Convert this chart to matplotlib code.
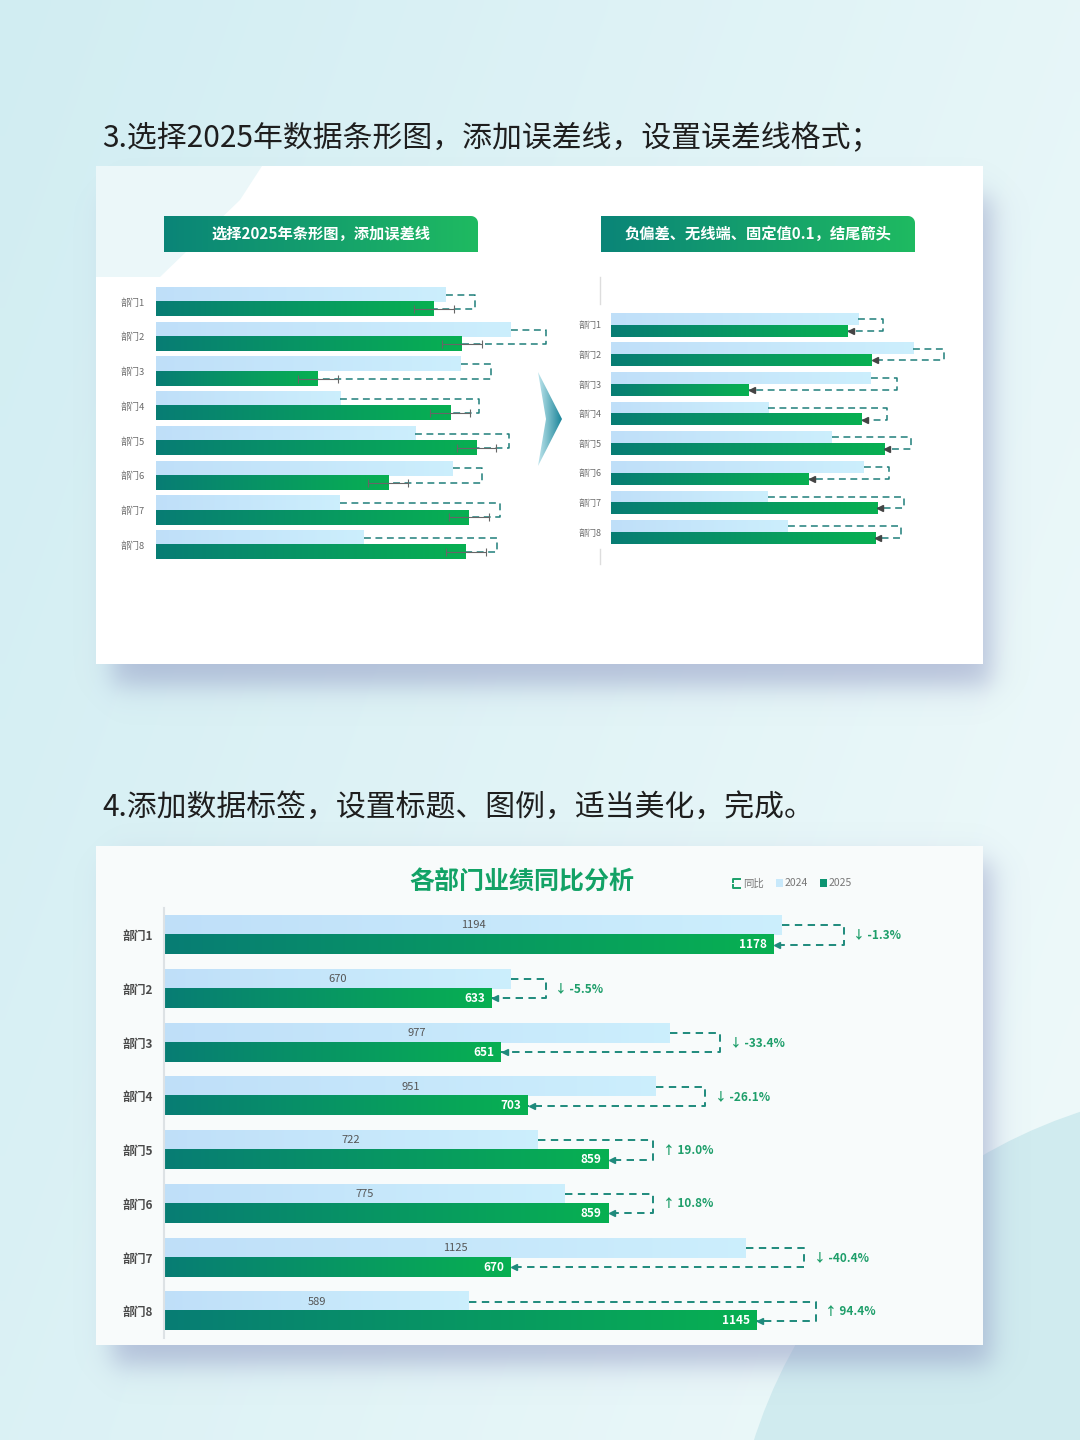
import numpy as np
import matplotlib
matplotlib.use('Agg')
import matplotlib.pyplot as plt
from matplotlib.patches import Rectangle, Polygon, Circle, PathPatch
from matplotlib.path import Path
import matplotlib.transforms as mtransforms

plt.rcParams['font.family'] = ['Noto Sans CJK SC', 'DejaVu Sans']

# ---- data ----
depts = ['部门1', '部门2', '部门3', '部门4', '部门5', '部门6', '部门7', '部门8']
# demo data used in the two step charts
demo_2024 = [986, 1207, 1037, 627, 881, 1009, 625, 706]
demo_2025 = [944, 1040, 550, 1000, 1090, 790, 1063, 1054]
demo_err = 68
# final chart
sales_2024 = [1194, 670, 977, 951, 722, 775, 1125, 589]
sales_2025 = [1178, 633, 651, 703, 859, 859, 670, 1145]

heading3 = '3.选择2025年数据条形图，添加误差线，设置误差线格式；'
heading4 = '4.添加数据标签，设置标题、图例，适当美化，完成。'
banner1 = '选择2025年条形图，添加误差线'
banner2 = '负偏差、无线端、固定值0.1，结尾箭头'
chart_title = '各部门业绩同比分析'
legend_labels = ['同比', '2024', '2025']

W, H = 1080, 1440
fig = plt.figure(figsize=(10.8, 14.4), dpi=100)
bg = fig.add_axes([0, 0, 1, 1])
bg.set_xlim(0, W)
bg.set_ylim(H, 0)
bg.axis('off')

c24a, c24b = np.array([0.75, 0.875, 0.976]), np.array([0.80, 0.935, 0.99])
c25a, c25b = np.array([0.03, 0.49, 0.455]), np.array([0.03, 0.69, 0.32])
teal = '#1f8a7c'

# background gradient
yy, xx = np.mgrid[0:1:144j, 0:1:108j]
t = np.clip(0.75 * xx + 0.35 * yy, 0, 1)[..., None]
cA = np.array([0.82, 0.93, 0.95])
cB = np.array([0.93, 0.975, 0.98])
bg.imshow(cA * (1 - t) + cB * t, extent=(0, W, H, 0), aspect='auto', zorder=0, interpolation='bilinear')
bg.add_patch(Circle((1237, 1594), 507, fc='#d0ebef', ec='none', zorder=1))


def soft_shadow(x0, y0, x1, y1, s, alpha, color):
    gx = np.linspace(0, W, W // 2)
    gy = np.linspace(0, H, H // 2)
    fx = 0.5 * (np.tanh((gx - x0) / s) - np.tanh((gx - x1) / s))
    fy = 0.5 * (np.tanh((gy - y0) / s) - np.tanh((gy - y1) / s))
    img = np.zeros((len(gy), len(gx), 4))
    img[..., :3] = color
    img[..., 3] = np.outer(fy, fx) * alpha
    bg.imshow(img, extent=(0, W, H, 0), aspect='auto', zorder=2, interpolation='bilinear')


soft_shadow(112, 196, 992, 686, 16, 0.55, (0.56, 0.59, 0.76))
soft_shadow(112, 862, 992, 1366, 16, 0.55, (0.56, 0.59, 0.76))

# cards
bg.add_patch(Rectangle((96, 166), 887, 498, fc='white', ec='none', zorder=3))
bg.add_patch(Polygon([(96, 166), (262, 166), (240, 200), (160, 277), (96, 277)],
                     fc='#ebf7f9', ec='none', zorder=3.2))
bg.add_patch(Rectangle((96, 846), 887, 499, fc='#f8fbfb', ec='none', zorder=3))

# headings
bg.text(102, 139, heading3, fontsize=21.5, color='#1e1e1e', va='center', zorder=5)
bg.text(102, 807, heading4, fontsize=21.5, color='#1e1e1e', va='center', zorder=5)


def grad_fill(x0, y0, x1, y1, ca, cb, clip, z):
    g = np.linspace(0, 1, 256)[None, :, None]
    im = bg.imshow(ca * (1 - g) + cb * g, extent=(x0, x1, y1, y0), aspect='auto',
                   zorder=z, interpolation='bilinear')
    im.set_clip_path(clip)


def banner_path(x0, y0, x1, y1, r):
    ang = np.linspace(-np.pi / 2, 0, 8)
    arc = [(x1 - r + r * np.cos(a), y0 + r + r * np.sin(a)) for a in ang]
    verts = [(x0, y1), (x0, y0)] + arc + [(x1, y1), (x0, y1)]
    return Path(verts)


for (bx0, bx1, txt) in [(164, 478, banner1), (601, 915, banner2)]:
    p = PathPatch(banner_path(bx0, 216, bx1, 252, 7), fc='none', ec='none', zorder=4)
    bg.add_patch(p)
    grad_fill(bx0, 216, bx1, 252, np.array([0.04, 0.52, 0.47]), np.array([0.12, 0.73, 0.38]), p, 4)
    bg.text((bx0 + bx1) / 2, 234, txt, color='white', fontsize=11, weight='bold',
            ha='center', va='center', zorder=5)

# chevron between step charts
chev = Polygon([(538, 372), (562, 419), (538, 466), (546, 419)], fc='none', ec='none', zorder=4)
bg.add_patch(chev)
grad_fill(538, 372, 562, 466, np.array([0.75, 0.9, 0.93]), np.array([0.1, 0.52, 0.6]), chev, 4)

# axis stubs of the right step chart
bg.plot([600, 600], [277, 304], color='#dddddd', lw=1, zorder=5)
bg.plot([600, 600], [549, 564], color='#dddddd', lw=1, zorder=5)

# final chart title and legend
bg.text(522, 882, chart_title, color='#12a266', fontsize=18, weight='bold',
        ha='center', va='center', zorder=5)
bg.plot([740, 733, 733], [879, 879, 882], color='#1aa06a', lw=1.4, zorder=5)
bg.plot([733, 733, 740], [885, 888, 888], color='#1aa06a', lw=1.4, zorder=5)
bg.text(743, 883.5, legend_labels[0], fontsize=7.5, color='#777777', va='center', zorder=5)
bg.add_patch(Rectangle((776, 879), 7, 8, fc='#c8e9fb', ec='none', zorder=5))
bg.text(785, 883.5, legend_labels[1], fontsize=7.5, color='#777777', va='center', zorder=5)
bg.add_patch(Rectangle((820, 879), 7, 8, fc='#0c9471', ec='none', zorder=5))
bg.text(829, 883.5, legend_labels[2], fontsize=7.5, color='#777777', va='center', zorder=5)

bg.set_xlim(0, W)
bg.set_ylim(H, 0)


def px_axes(x0, y0, x1, y1):
    ax = fig.add_axes([x0 / W, 1 - y1 / H, (x1 - x0) / W, (y1 - y0) / H])
    ax.patch.set_alpha(0)
    for s in ax.spines.values():
        s.set_visible(False)
    ax.set_xticks([])
    return ax


def grad_bars(ax, bars, ca, cb):
    g = np.linspace(0, 1, 128)[None, :, None]
    img = ca * (1 - g) + cb * g
    for b in bars:
        x, y, w, h = b.get_x(), b.get_y(), b.get_width(), b.get_height()
        ax.imshow(img, extent=(x, x + w, y + h, y), aspect='auto', zorder=2, interpolation='bilinear')
        b.set_facecolor('none')


def draw_bars(ax, v24, v25, h, xmax):
    y = np.arange(len(depts))
    b24 = ax.barh(y - h / 2, v24, height=h, lw=0)
    b25 = ax.barh(y + h / 2, v25, height=h, lw=0)
    grad_bars(ax, b24, c24a, c24b)
    grad_bars(ax, b25, c25a, c25b)
    ax.set_xlim(0, xmax)
    ax.set_ylim(len(depts) - 0.5, -0.5)
    return y


def brackets(ax, v24, v25, h, lw, dash, color):
    out = []
    for i in range(len(depts)):
        bx = max(v24[i], v25[i]) * 1.1
        ax.plot([v24[i], bx, bx, v25[i]], [i - h / 2, i - h / 2, i + h / 2, i + h / 2],
                color=color, lw=lw, dashes=dash, zorder=3)
        out.append(bx)
    return out


# ---- step chart 1 ----
ax1 = px_axes(156, 284.6, 560, 562.4)
h1 = 0.41
y1 = draw_bars(ax1, demo_2024, demo_2025, h1, 1374)
brackets(ax1, demo_2024, demo_2025, h1, 1.1, (4.5, 3), '#1f7f7a')
ax1.errorbar(demo_2025, y1 + h1 / 2, xerr=demo_err, fmt='none', ecolor='#666666',
             elinewidth=0.8, capsize=3, capthick=0.8, zorder=4)
ax1.set_yticks(y1, depts, fontsize=6.8, color='#6b6b6b')
ax1.tick_params(axis='y', length=0, pad=8)

# ---- step chart 2 ----
ax2 = px_axes(611, 310, 960, 547)
h2 = 0.395
y2 = draw_bars(ax2, demo_2024, demo_2025, h2, 1393)
brackets(ax2, demo_2024, demo_2025, h2, 1.1, (4.5, 3), '#1f7f7a')
off2 = mtransforms.offset_copy(ax2.transData, fig=fig, x=2.2, y=0, units='points')
ax2.plot(demo_2025, y2 + h2 / 2, ls='none', marker='<', ms=4, color='#444444',
         transform=off2, zorder=4)
ax2.set_yticks(y2, depts, fontsize=6.5, color='#6b6b6b')
ax2.tick_params(axis='y', length=0, pad=7)

# ---- final chart ----
ax3 = px_axes(164.3, 908.1, 965, 1338.2)
h3 = 0.355
y3 = draw_bars(ax3, sales_2024, sales_2025, h3, 1548)
bxs = brackets(ax3, sales_2024, sales_2025, h3, 1.4, (3.8, 2.8), teal)
off3 = mtransforms.offset_copy(ax3.transData, fig=fig, x=2.6, y=0, units='points')
ax3.plot(sales_2025, y3 + h3 / 2, ls='none', marker='<', ms=5, color=teal,
         transform=off3, zorder=4)
for i in range(len(depts)):
    ax3.text(sales_2024[i] / 2, i - h3 / 2, str(sales_2024[i]), ha='center', va='center',
             fontsize=8, color='#555555', zorder=5)
    ax3.annotate(str(sales_2025[i]), xy=(sales_2025[i], i + h3 / 2), xytext=(-5, 0),
                 textcoords='offset points', ha='right', va='center', fontsize=8.5,
                 weight='bold', color='white', zorder=5)
    pct = (sales_2025[i] - sales_2024[i]) / sales_2024[i] * 100
    arrow = '↑' if pct > 0 else '↓'
    ax3.annotate(f'{arrow} {pct:.1f}%', xy=(bxs[i], i), xytext=(7, 0),
                 textcoords='offset points', ha='left', va='center', fontsize=8.5,
                 weight='bold', color='#1e9e6a', zorder=5)
ax3.spines['left'].set_visible(True)
ax3.spines['left'].set_color('#dde2e5')
ax3.spines['left'].set_linewidth(1.5)
ax3.set_yticks(y3, depts, fontsize=8.5, fontweight='bold', color='#4a4a4a')
ax3.tick_params(axis='y', length=0, pad=8)

fig.savefig('out.png', dpi=100)
